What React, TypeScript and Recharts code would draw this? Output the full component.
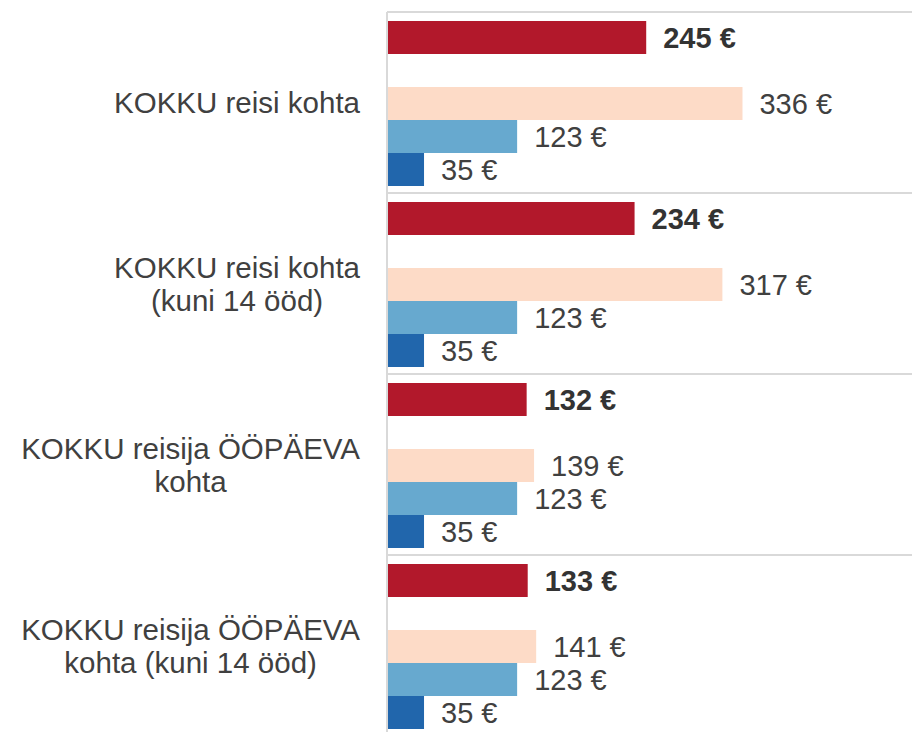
import React from "react";
import { BarChart, Bar, XAxis, YAxis, CartesianGrid, LabelList } from "recharts";

const categories = [
  "KOKKU reisi kohta",
  "KOKKU reisi kohta\n(kuni 14 ööd)",
  "KOKKU reisija ÖÖPÄEVA\nkohta",
  "KOKKU reisija ÖÖPÄEVA\nkohta (kuni 14 ööd)",
];
const seriesRed = [245, 234, 132, 133];
const seriesPeach = [336, 317, 139, 141];
const seriesLightBlue = [123, 123, 123, 123];
const seriesDarkBlue = [35, 35, 35, 35];

const data = categories.map((c, i) => ({
  cat: c,
  red: seriesRed[i],
  spacer: null,
  peach: seriesPeach[i],
  lightBlue: seriesLightBlue[i],
  darkBlue: seriesDarkBlue[i],
}));

const FONT = "'Liberation Sans', Arial, sans-serif";
const FS = 29;
const CAT_FS = 29.5;
const TEXT = "#404040";

let ctx: CanvasRenderingContext2D | null = null;
function measure(s: string): number {
  if (!ctx) {
    const c = document.createElement("canvas");
    ctx = c.getContext("2d");
  }
  if (!ctx) return s.length * CAT_FS * 0.5;
  ctx.font = `${CAT_FS}px ${FONT}`;
  return ctx.measureText(s).width;
}

const CategoryTick = (props: any) => {
  const { x, y, payload } = props;
  const lines: string[] = String(payload.value).split("\n");
  const w = Math.max(...lines.map(measure));
  const cx = x - w / 2;
  const lh = 33;
  return (
    <text
      x={cx}
      y={y}
      textAnchor="middle"
      fill={TEXT}
      fontSize={CAT_FS}
      fontFamily={FONT}
    >
      {lines.map((l, i) => (
        <tspan key={i} x={cx} y={y + (i - (lines.length - 1) / 2) * lh} dy="0.36em">
          {l}
        </tspan>
      ))}
    </text>
  );
};

const fmt = (v: any) => (v == null ? "" : `${v} €`);

export default function App() {
  return (
    <div
      style={{
        position: "fixed",
        top: 0,
        left: 0,
        width: 912,
        height: 732,
        overflow: "hidden",
        background: "#fff",
      }}
    >
      <BarChart
        width={916}
        height={740}
        data={data}
        layout="vertical"
        margin={{ top: 12, right: 0, bottom: 4, left: 0 }}
        barCategoryGap="5%"
        barGap={0}
      >
        <CartesianGrid
          vertical={false}
          stroke="#d9d9d9"
          strokeWidth={2}
          horizontalCoordinatesGenerator={({ offset }: any) =>
            categories.map((_, i) => offset.top + (i * offset.height) / categories.length)
          }
        />
        <XAxis type="number" domain={[0, 500]} hide />
        <YAxis
          type="category"
          dataKey="cat"
          width={387}
          axisLine={{ stroke: "#d9d9d9", strokeWidth: 2 }}
          tickLine={false}
          tickSize={0}
          tickMargin={27}
          tick={<CategoryTick />}
          interval={0}
        />
        <Bar dataKey="red" fill="#B2182B" isAnimationActive={false}>
          <LabelList
            dataKey="red"
            position="right"
            offset={17}
            formatter={fmt}
            fill="#333333"
            fontSize={FS}
            fontWeight="bold"
            fontFamily={FONT}
          />
        </Bar>
        <Bar dataKey="spacer" fill="none" isAnimationActive={false} />
        <Bar dataKey="peach" fill="#FDDBC7" isAnimationActive={false}>
          <LabelList
            dataKey="peach"
            position="right"
            offset={17}
            formatter={fmt}
            fill={TEXT}
            fontSize={FS}
            fontFamily={FONT}
          />
        </Bar>
        <Bar dataKey="lightBlue" fill="#67A9CF" isAnimationActive={false}>
          <LabelList
            dataKey="lightBlue"
            position="right"
            offset={17}
            formatter={fmt}
            fill={TEXT}
            fontSize={FS}
            fontFamily={FONT}
          />
        </Bar>
        <Bar dataKey="darkBlue" fill="#2166AC" isAnimationActive={false}>
          <LabelList
            dataKey="darkBlue"
            position="right"
            offset={17}
            formatter={fmt}
            fill={TEXT}
            fontSize={FS}
            fontFamily={FONT}
          />
        </Bar>
      </BarChart>
    </div>
  );
}
